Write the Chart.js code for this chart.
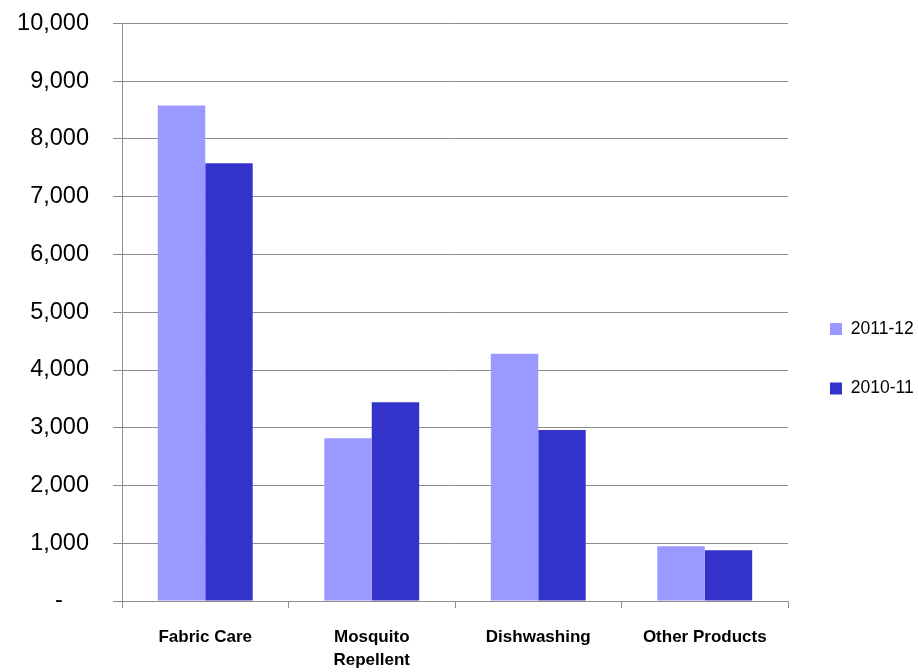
<!DOCTYPE html>
<html>
<head>
<meta charset="utf-8">
<script src="https://cdn.jsdelivr.net/npm/chart.js@4"></script>
<style>
  html, body { margin: 0; padding: 0; background: #ffffff; }
</style>
</head>
<body>
<canvas id="grafico" width="918" height="672"></canvas>
<script>
// categorias e valores
const categorias = ["Fabric Care", ["Mosquito", "Repellent"], "Dishwashing", "Other Products"];
const anos = ["2011-12", "2010-11"];
const vendas2011 = [8580, 2820, 4280, 950];
const vendas2010 = [7580, 3440, 2960, 880];
const yTicks = [0, 1000, 2000, 3000, 4000, 5000, 6000, 7000, 8000, 9000, 10000];

const corGrade = "#8c8c8c";

new Chart(document.getElementById("grafico"), {
  type: "bar",
  data: {
    labels: categorias,
    datasets: [
      { label: anos[0], data: vendas2011, backgroundColor: "#9999ff", borderWidth: 0 },
      { label: anos[1], data: vendas2010, backgroundColor: "#3333cc", borderWidth: 0 }
    ]
  },
  options: {
    responsive: false,
    animation: false,
    layout: { padding: { left: 0, top: 23.5, right: 0, bottom: 0 } },
    datasets: {
      bar: { categoryPercentage: 0.57, barPercentage: 1.0 }
    },
    plugins: {
      legend: {
        position: "right",
        maxWidth: 130,
        title: {
          display: true,
          text: " ",
          color: "rgba(0,0,0,0)",
          font: { size: 10, lineHeight: 1 },
          padding: { top: 6, bottom: 6 }
        },
        labels: {
          boxWidth: 12,
          boxHeight: 12,
          padding: 42,
          color: "#000000",
          font: { family: "Liberation Sans", size: 17.5 }
        }
      },
      tooltip: { enabled: false }
    },
    scales: {
      x: {
        afterFit: function(scale) { scale.height = 71; },
        grid: {
          drawOnChartArea: false,
          color: corGrade,
          tickLength: 7,
          offset: true
        },
        border: { color: corGrade, width: 1 },
        ticks: {
          color: "#000000",
          padding: 17,
          maxRotation: 0,
          font: { family: "Liberation Sans", size: 17, weight: "bold", lineHeight: 1.4 }
        }
      },
      y: {
        min: 0,
        max: 10000,
        afterFit: function(scale) {
          scale.width = 122;
          scale.paddingTop = 12;
          scale.paddingBottom = 0;
        },
        afterBuildTicks: function(axis) {
          axis.ticks = yTicks.map(v => ({ value: v }));
        },
        grid: { color: corGrade, tickLength: 9 },
        border: { color: corGrade, width: 1 },
        ticks: {
          color: "#000000",
          padding: 24,
          font: { family: "Liberation Sans", size: 23.5, lineHeight: 1 },
          callback: function(value) {
            return value === 0 ? "-    " : value.toLocaleString("en-US");
          }
        }
      }
    }
  }
});
</script>
</body>
</html>
